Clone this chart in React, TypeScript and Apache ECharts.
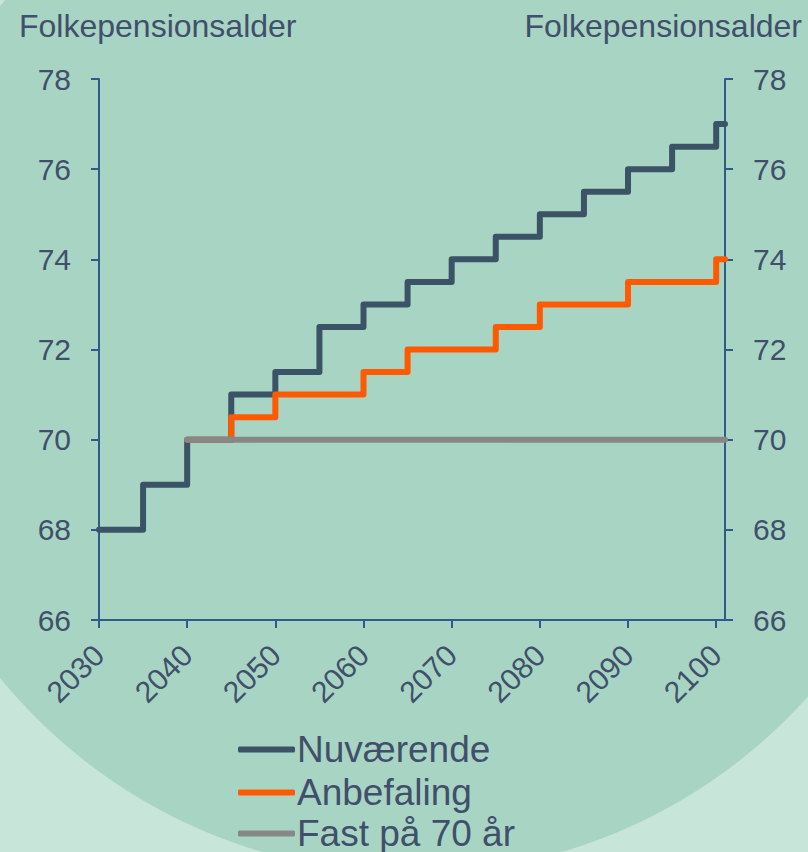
import React, { useEffect, useRef } from "react";
import * as echarts from "echarts";

// ---- data ----
const tickYears = [2030, 2040, 2050, 2060, 2070, 2080, 2090, 2100];
const nuvYears = [2030, 2035, 2040, 2045, 2050, 2055, 2060, 2065, 2070, 2075, 2080, 2085, 2090, 2095, 2100, 2101];
const nuvValues = [68, 69, 70, 71, 71.5, 72.5, 73, 73.5, 74, 74.5, 75, 75.5, 76, 76.5, 77, 77];
const anbYears = [2040, 2045, 2050, 2060, 2065, 2075, 2080, 2090, 2100, 2101];
const anbValues = [70, 70.5, 71, 71.5, 72, 72.5, 73, 73.5, 74, 74];
const fastYears = [2040, 2101];
const fastValues = [70, 70];
const seriesNames = ["Nuværende", "Anbefaling", "Fast på 70 år"];
const seriesColors = ["#3b5366", "#ff5a00", "#878787"];
const yTitle = "Folkepensionsalder";

const TEXT = "#414f6b";
const AXIS = "#2f5a8a";
const FONT = "'Liberation Sans', Arial, sans-serif";

const zip = (xs: number[], ys: number[]) => xs.map((x, i) => [x, ys[i]]);

export default function App() {
  const ref = useRef<HTMLDivElement>(null);
  useEffect(() => {
    document.body.style.margin = "0";
    if (!ref.current) return;
    const chart = echarts.init(ref.current, null, { renderer: "svg" });
    const yAxisBase = {
      type: "value" as const,
      min: 66,
      max: 78,
      interval: 2,
      splitLine: { show: false },
      axisLine: { show: true, lineStyle: { color: AXIS, width: 2 } },
      axisTick: { show: true, length: 8, lineStyle: { color: AXIS, width: 2 } },
      axisLabel: { color: TEXT, fontSize: 30, fontFamily: FONT, margin: 28 },
    };
    const lineSeries = (name: string, data: number[][], color: string) => ({
      name,
      type: "line" as const,
      step: "end" as const,
      data,
      symbol: "none",
      showSymbol: false,
      color,
      lineStyle: { color, width: 6, cap: "round", join: "round" },
      itemStyle: { color },
    });
    const legendCenters = [749, 792, 833];
    const legends = seriesNames.map((name, i) => ({
      orient: "vertical",
      left: 238,
      top: legendCenters[i] - 18,
      padding: 0,
      icon: "roundRect",
      itemWidth: 57,
      itemHeight: 6,
      data: [name],
      textStyle: { color: TEXT, fontSize: 37, fontFamily: FONT, lineHeight: 36, padding: [0, 0, 0, -3] },
    }));
    chart.setOption({
      animation: false,
      backgroundColor: "transparent",
      textStyle: { fontFamily: FONT },
      grid: { left: 99, right: 83, top: 79, bottom: 232, containLabel: false },
      xAxis: {
        type: "value",
        min: 2030,
        max: 2101,
        interval: 10,
        splitLine: { show: false },
        axisLine: { show: true, onZero: false, lineStyle: { color: AXIS, width: 2 } },
        axisTick: { show: true, length: 8, customValues: tickYears, lineStyle: { color: AXIS, width: 2 } },
        axisLabel: {
          color: TEXT,
          fontSize: 30,
          fontFamily: FONT,
          rotate: 45,
          margin: 30,
          customValues: tickYears,
          formatter: (v: number) => String(v),
        },
      },
      yAxis: [
        { ...yAxisBase, position: "left" },
        { ...yAxisBase, position: "right" },
      ],
      legend: legends,
      graphic: [
        {
          type: "text",
          left: 19,
          top: 10,
          style: { text: yTitle, fill: TEXT, font: `32px ${FONT}` },
        },
        {
          type: "text",
          right: 6,
          top: 10,
          style: { text: yTitle, fill: TEXT, font: `32px ${FONT}` },
        },
      ],
      series: [
        lineSeries(seriesNames[0], zip(nuvYears, nuvValues), seriesColors[0]),
        lineSeries(seriesNames[1], zip(anbYears, anbValues), seriesColors[1]),
        lineSeries(seriesNames[2], zip(fastYears, fastValues), seriesColors[2]),
      ],
    });
    return () => chart.dispose();
  }, []);
  return (
    <div
      style={{
        width: 808,
        height: 852,
        background:
          "radial-gradient(circle 532px at 412px 342px, #a8d5c3 531px, #c8e5da 532px)",
      }}
    >
      <div ref={ref} style={{ width: 808, height: 852 }} />
    </div>
  );
}
